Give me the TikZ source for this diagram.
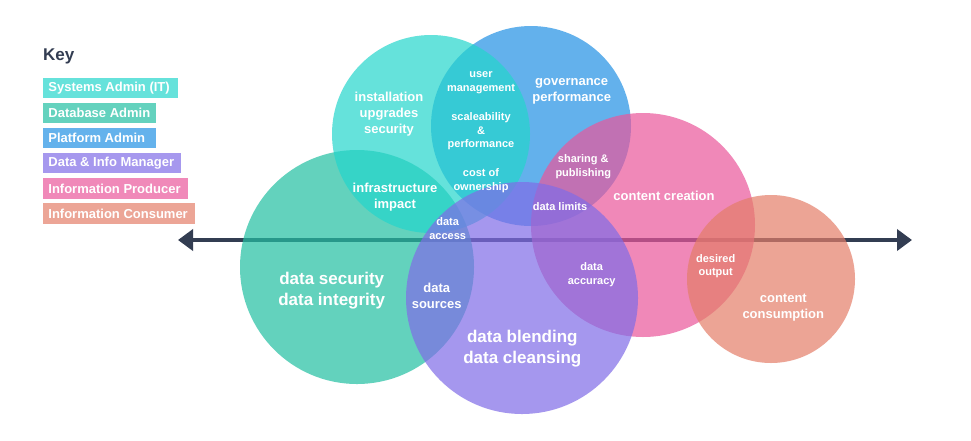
\documentclass[tikz,border=0pt]{standalone}
\usepackage{fontspec}
\setmainfont{Liberation Sans}
\usetikzlibrary{arrows.meta}
\definecolor{cSys}{RGB}{36,214,204}
\definecolor{cDb}{RGB}{34,191,162}
\definecolor{cPlat}{RGB}{34,145,228}
\definecolor{cMgr}{RGB}{128,108,231}
\definecolor{cProd}{RGB}{234,86,155}
\definecolor{cCons}{RGB}{228,126,105}
\definecolor{kSys}{RGB}{102,226,219}
\definecolor{kDb}{RGB}{100,210,190}
\definecolor{kPlat}{RGB}{100,178,236}
\definecolor{kMgr}{RGB}{166,152,238}
\definecolor{kProd}{RGB}{240,137,185}
\definecolor{kCons}{RGB}{236,165,150}
\definecolor{axisc}{RGB}{51,61,82}
\newcommand{\keytext}[2]{\makebox[#1][l]{#2}}
\begin{document}
\begin{tikzpicture}[x=1pt,y=-1pt,
  venn/.style={circle, inner sep=0pt, fill opacity=0.7, draw=none},
  lbl/.style={text=white, font=\bfseries\fontsize{13}{16}\selectfont, align=center, inner sep=0pt},
  lblS/.style={lbl, font=\bfseries\fontsize{11}{13.7}\selectfont},
  lblL/.style={lbl, font=\bfseries\fontsize{17}{20.7}\selectfont},
  keybox/.style={anchor=north west, inner xsep=5.5pt, inner ysep=0pt, minimum height=20.5pt, text=white, font=\bfseries\fontsize{13}{15}\selectfont},
  axisline/.style={line width=4.3pt, color=axisc, {Triangle[length=15pt,width=21pt]}-{Triangle[length=15pt,width=21pt]}}
]
\useasboundingbox (0,0) rectangle (971,440);
\fill[white] (0,0) rectangle (971,440);

% axis
\coordinate (axL) at (178,240);
\coordinate (axR) at (912,240);
\draw[axisline] (axL) -- (axR);

% circles
\node[venn, fill=cPlat, minimum size=200pt] (plat) at (531,126) {};
\node[venn, fill=cProd, minimum size=224pt] (prod) at (643,225) {};
\node[venn, fill=cDb, minimum size=234pt] (db) at (357,267) {};
\node[venn, fill=cSys, minimum size=198pt] (sys) at (431,134) {};
\node[venn, fill=cMgr, minimum size=232pt] (mgr) at (522,298) {};
\node[venn, fill=cCons, minimum size=168pt] (cons) at (771,279) {};

% labels
\node[lbl] (tInst) at (389,114.3) {installation\\upgrades\\security};
\node[lbl] (tGov) at (571.7,91.3) {governance\\performance};
\node[lblS] (tUser) at (481,82.5) {user\\management};
\node[lblS] (tScale) at (481,131.3) {scaleability\\\&\\performance};
\node[lblS] (tCost) at (481,180.3) {cost of\\ownership};
\node[lbl] (tInfra) at (395,196.7) {infrastructure\\impact};
\node[lblS] (tAccess) at (447.7,228.3) {data\\access};
\node[lblS] (tShare) at (583.3,167) {sharing \&\\publishing};
\node[lblS] (tLimits) at (560,206.3) {data limits};
\node[lbl] (tCreate) at (664,196.3) {content creation};
\node[lblL] (tSec) at (331.7,290.7) {data security\\data integrity};
\node[lbl] (tSrc) at (436.7,295.7) {data\\sources};
\node[lblL] (tBlend) at (522.3,348.7) {data blending\\data cleansing};
\node[lblS] (tAcc) at (591.7,274.3) {data\\accuracy};
\node[lblS] (tDes) at (715.7,266) {desired\\output};
\node[lbl] (tCons) at (783.3,307.5) {content\\consumption};

% key
\node[anchor=west, inner sep=0pt, text=axisc, font=\bfseries\fontsize{17}{19}\selectfont] (key) at (43,56) {Key};
\node[keybox, fill=kSys] (k1) at (42.7,77.7) {\keytext{124pt}{Systems Admin (IT)}};
\node[keybox, fill=kDb] (k2) at (42.7,102.3) {\keytext{102.3pt}{Database Admin}};
\node[keybox, fill=kPlat] (k3) at (42.7,127.3) {\keytext{102.3pt}{Platform Admin}};
\node[keybox, fill=kMgr] (k4) at (42.7,152.7) {\keytext{127pt}{Data \& Info Manager}};
\node[keybox, fill=kProd] (k5) at (42.7,178) {\keytext{134pt}{Information Producer}};
\node[keybox, fill=kCons] (k6) at (42.7,203) {\keytext{140.6pt}{Information Consumer}};
\end{tikzpicture}
\end{document}
